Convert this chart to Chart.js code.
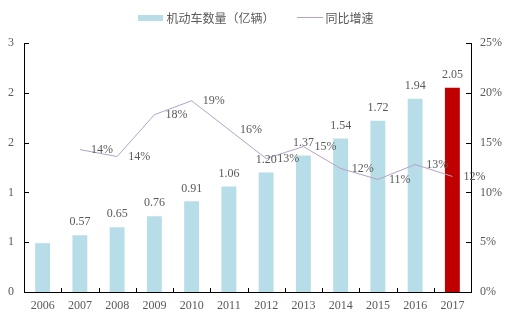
<!DOCTYPE html>
<html>
<head>
<meta charset="utf-8">
<script src="https://cdn.jsdelivr.net/npm/chart.js@4.4.1/dist/chart.umd.min.js"></script>
<style>
  html, body { margin: 0; padding: 0; background: #fff; }
  #wrap { position: relative; width: 512px; height: 321px; }
  #legend { position: absolute; top: 9px; left: 0; width: 512px; display: flex; justify-content: center; align-items: center;
    font-family: "Noto Sans CJK SC", sans-serif; font-size: 12px; color: #595959; }
  .sw { display: inline-block; width: 25px; height: 6px; background: #B7DDE8; margin-right: 3px; }
  .ln { display: inline-block; width: 26px; height: 1px; background: #B3A2C7; margin-left: 22px; margin-right: 3px; }
</style>
</head>
<body>
<div id="wrap">
  <canvas id="c" width="512" height="321"></canvas>
  <div id="legend"><span class="sw"></span><span>机动车数量（亿辆）</span><span class="ln"></span><span>同比增速</span></div>
</div>
<script>
const categories = ['2006','2007','2008','2009','2010','2011','2012','2013','2014','2015','2016','2017'];
const vehicles = [0.49, 0.57, 0.65, 0.76, 0.91, 1.06, 1.20, 1.37, 1.54, 1.72, 1.94, 2.05];
const vehicleLabels = ['', '0.57', '0.65', '0.76', '0.91', '1.06', '1.20', '1.37', '1.54', '1.72', '1.94', '2.05'];
const growth = [null, 14.3, 13.6, 17.8, 19.2, 16.3, 13.4, 14.6, 12.4, 11.3, 12.8, 11.6];
const leftTicks = [0, 0.5, 1, 1.5, 2, 2.5];
const rightTicks = [0, 5, 10, 15, 20, 25];

const barColors = categories.map((c, i) => i === categories.length - 1 ? '#C00000' : '#B7DDE8');
const textColor = '#595959';
const serif = '"Liberation Serif", "Times New Roman", serif';

const insideTicks = {
  id: 'insideTicks',
  afterDraw(chart) {
    const ctx = chart.ctx, a = chart.chartArea;
    const x = chart.scales.x, yl = chart.scales.y, yr = chart.scales.y1;
    ctx.save();
    ctx.strokeStyle = '#000';
    ctx.lineWidth = 1;
    ctx.beginPath();
    for (let i = 1; i < categories.length; i++) {
      const px = Math.round((x.getPixelForTick(i - 1) + x.getPixelForTick(i)) / 2) + 0.5;
      ctx.moveTo(px, a.bottom); ctx.lineTo(px, a.bottom - 4);
    }
    leftTicks.forEach(v => {
      const py = Math.round(yl.getPixelForValue(v)) + 0.5;
      ctx.moveTo(a.left, py); ctx.lineTo(a.left + 5, py);
    });
    rightTicks.forEach(v => {
      const py = Math.round(yr.getPixelForValue(v)) + 0.5;
      ctx.moveTo(a.right, py); ctx.lineTo(a.right - 5, py);
    });
    ctx.stroke();
    ctx.restore();
  }
};

const dataLabels = {
  id: 'dataLabels',
  afterDatasetsDraw(chart) {
    const ctx = chart.ctx;
    ctx.save();
    ctx.font = '12px ' + serif;
    ctx.fillStyle = textColor;
    const barMeta = chart.getDatasetMeta(0);
    barMeta.data.forEach((el, i) => {
      if (!vehicleLabels[i]) return;
      ctx.textAlign = 'center';
      ctx.textBaseline = 'middle';
      ctx.fillText(vehicleLabels[i], el.x, el.y - 13);
    });
    const lineMeta = chart.getDatasetMeta(1);
    lineMeta.data.forEach((el, i) => {
      if (growth[i] == null) return;
      ctx.textAlign = 'left';
      ctx.textBaseline = 'middle';
      ctx.fillText(Math.round(growth[i]) + '%', el.x + 11, el.y);
    });
    ctx.restore();
  }
};

new Chart(document.getElementById('c'), {
  data: {
    labels: categories,
    datasets: [
      { type: 'bar', label: '机动车数量（亿辆）', data: vehicles, backgroundColor: barColors,
        barPercentage: 0.4, categoryPercentage: 1.0, yAxisID: 'y', order: 2 },
      { type: 'line', label: '同比增速', data: growth, borderColor: '#B3A2C7', borderWidth: 1,
        pointRadius: 0, tension: 0, fill: false, yAxisID: 'y1', order: 1, spanGaps: false }
    ]
  },
  options: {
    responsive: false,
    animation: false,
    layout: { padding: { top: 43, left: 0, right: 0, bottom: 0 } },
    plugins: { legend: { display: false }, tooltip: { enabled: false } },
    scales: {
      x: {
        offset: true,
        grid: { display: false, drawTicks: false },
        border: { display: true, color: '#000', width: 1 },
        ticks: { color: textColor, font: { family: serif, size: 12 }, padding: 7, maxRotation: 0 },
        afterFit(s) { s.height = 29; }
      },
      y: {
        position: 'left', min: 0, max: 2.5,
        afterBuildTicks(s) { s.ticks = leftTicks.map(v => ({ value: v })); },
        grid: { display: false, drawTicks: false },
        border: { display: true, color: '#000', width: 1 },
        ticks: { color: textColor, font: { family: serif, size: 12 }, padding: 10,
          callback: v => String(Math.round(v)) },
        afterFit(s) { s.width = 24; }
      },
      y1: {
        position: 'right', min: 0, max: 25,
        afterBuildTicks(s) { s.ticks = rightTicks.map(v => ({ value: v })); },
        grid: { display: false, drawTicks: false },
        border: { display: true, color: '#000', width: 1 },
        ticks: { color: textColor, font: { family: serif, size: 12 }, padding: 9,
          callback: v => v + '%' },
        afterFit(s) { s.width = 41; }
      }
    }
  },
  plugins: [insideTicks, dataLabels]
});
</script>
</body>
</html>
